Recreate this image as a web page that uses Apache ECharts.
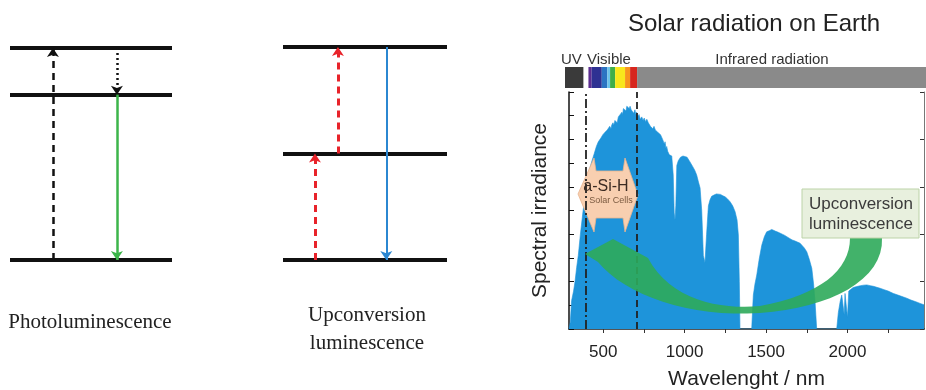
<!DOCTYPE html>
<html>
<head>
<meta charset="utf-8">
<script src="https://cdn.jsdelivr.net/npm/echarts@6/dist/echarts.min.js"></script>
<style>
  html, body { margin: 0; padding: 0; background: #fff; }
  #chart { width: 926px; height: 390px; }
</style>
</head>
<body>
<div id="chart"></div>
<script>
// spectrum (nm / arbitrary units)
const wavelength = [290, 298, 306, 318, 327, 337, 347, 360, 375, 388, 400, 415, 429, 445, 458, 470, 485, 498, 511, 525,
  540, 548, 552, 560, 565, 572, 580, 586, 593, 600, 605, 615, 620, 624, 630, 635, 640, 645, 654, 660,
  665, 672, 680, 687, 695, 700, 705, 712, 720, 728, 737, 745, 752, 760, 768, 777, 785, 790, 798, 805,
  812, 820, 828, 835, 845, 852, 859, 865, 870, 876, 880, 886, 890, 896, 900, 906, 912, 921, 930, 936,
  941, 946, 952, 961, 975, 990, 1002, 1015, 1033, 1050, 1062, 1074, 1085, 1095, 1105, 1115, 1125, 1135, 1146, 1156,
  1166, 1180, 1195, 1207, 1220, 1235, 1248, 1262, 1279, 1295, 1310, 1322, 1330, 1336, 1340, 1412, 1418, 1422, 1432, 1443,
  1458, 1474, 1490, 1504, 1520, 1535, 1545, 1560, 1575, 1586, 1600, 1615, 1627, 1645, 1660, 1675, 1689, 1700, 1709, 1720,
  1735, 1750, 1765, 1781, 1792, 1801, 1811, 1934, 1944, 1955, 1965, 1975, 1980, 1985, 1995, 2000, 2008, 2020, 2035, 2057,
  2080, 2100, 2119, 2140, 2160, 2180, 2200, 2225, 2250, 2282, 2310, 2335, 2364, 2390, 2420, 2446, 2470];
const irradiance = [0, 0.3, 1.2, 1.6, 2.0, 2.6, 3.1, 4.0, 4.9, 5.6, 6.2, 6.7, 7.05, 7.4, 7.7, 7.9, 8.05, 8.2, 8.3, 8.4,
  8.55, 8.45, 8.6, 8.7, 8.6, 8.8, 8.8, 8.7, 8.95, 9.0, 8.9, 9.15, 9.05, 9.3, 9.25, 9.35, 9.2, 9.4, 9.45, 9.3,
  9.4, 9.25, 9.3, 9.1, 9.25, 9.05, 9.15, 8.95, 9.05, 8.85, 8.95, 8.8, 8.9, 8.75, 8.85, 8.7, 8.75, 8.55, 8.6, 8.45,
  8.55, 8.4, 8.45, 8.3, 8.35, 8.2, 8.25, 8.0, 8.05, 7.8, 7.9, 7.6, 7.7, 7.5, 7.55, 7.35, 7.4, 7.3, 6.5, 4.9,
  4.6, 5.2, 6.9, 7.1, 7.25, 7.3, 7.35, 7.25, 7.05, 6.85, 6.7, 6.5, 6.2, 5.95, 5.0, 3.1, 2.8, 4.0, 5.2, 5.45,
  5.6, 5.65, 5.7, 5.7, 5.68, 5.62, 5.58, 5.5, 5.37, 5.2, 4.95, 4.6, 3.97, 2.0, 0, 0, 0.9, 1.43, 1.9, 2.28,
  2.95, 3.54, 3.9, 4.1, 4.15, 4.2, 4.18, 4.12, 4.08, 4.04, 4.0, 3.95, 3.9, 3.82, 3.76, 3.72, 3.68, 3.66, 3.62, 3.55,
  3.42, 3.26, 2.95, 2.56, 1.9, 1.15, 0, 0, 0.7, 1.15, 1.43, 1.5, 0.6, 1.5, 1.55, 0.5, 1.6, 1.65, 1.75, 1.79,
  1.83, 1.85, 1.86, 1.83, 1.8, 1.76, 1.72, 1.66, 1.6, 1.5, 1.43, 1.37, 1.3, 1.22, 1.15, 1.08, 1.02];

const xLabelValues = [500, 1000, 1500, 2000];
const xTickValues = [500, 750, 1000, 1250, 1500, 1750, 2000, 2250];
const cellLimits = [390, 705]; // a-Si-H range

// colour band over the plot
const bandStart = [265, 409, 429, 491, 525, 542, 573, 634, 665, 708];
const bandEnd   = [378, 429, 491, 525, 542, 573, 634, 665, 708, 2483];
const bandColor = ['#3a3a3a', '#5c2d91', '#2e3192', '#2b74c2', '#6cc4ea', '#3fae49', '#f8e71c', '#f7941d', '#d7261e', '#8a8a8a'];

// energy level diagrams
const plLevels = [0, 0.78, 1];
const ucLevels = [0, 0.5, 1];
// [x, from, to]
const plArrows = [[0.265, 0, 1], [0.66, 1, 0.78], [0.66, 0.78, 0]];
const ucArrows = [[0.195, 0, 0.5], [0.335, 0.5, 1], [0.63, 1, 0]];

const blue = '#1e94da';
const sans = '"Liberation Sans", Arial, sans-serif';
const serif = '"Liberation Serif", "Times New Roman", serif';

const chart = echarts.init(document.getElementById('chart'));

const plStyles = [
  { color: '#111', width: 2.5, type: [7, 5] },
  { color: '#111', width: 2.5, type: [2, 3] },
  { color: '#3cb54a', width: 2.5, type: 'solid' }
];
const ucStyles = [
  { color: '#e8232a', width: 3, type: [7, 5] },
  { color: '#e8232a', width: 3, type: [7, 5] },
  { color: '#2b87d1', width: 2, type: 'solid' }
];

function levelLines(levels) {
  return levels.map(e => ({ coords: [[0, e], [1, e]] }));
}
function arrowLines(arrows, styles) {
  return arrows.map((a, i) => ({ coords: [[a[0], a[1]], [a[0], a[2]]], lineStyle: styles[i] }));
}

// cubic bezier helper for the decorative swoosh outline
function bez(p0, p1, p2, p3, n) {
  const pts = [];
  for (let i = 0; i <= n; i++) {
    const t = i / n, u = 1 - t;
    pts.push([
      u * u * u * p0[0] + 3 * u * u * t * p1[0] + 3 * u * t * t * p2[0] + t * t * t * p3[0],
      u * u * u * p0[1] + 3 * u * u * t * p1[1] + 3 * u * t * t * p2[1] + t * t * t * p3[1]
    ]);
  }
  return pts;
}
const swoosh = [].concat(
  bez([850, 238], [850, 270], [820, 295], [760, 306], 16),
  bez([760, 306], [720, 310], [670, 300], [648, 258], 16),
  [[613, 239], [585, 254]],
  bez([598, 262], [625, 295], [690, 318], [760, 313], 16),
  bez([760, 313], [830, 308], [884, 280], [882, 238], 16)
);

const hiddenAxis = { type: 'value', min: 0, max: 1, show: false };

const option = {
  animation: false,
  title: {
    text: 'Solar radiation on Earth',
    left: 749, top: 7, textAlign: 'center',
    textStyle: { fontFamily: sans, fontSize: 24, fontWeight: 'normal', color: '#222' }
  },
  grid: [
    { left: 569, top: 92, width: 355, height: 237, outerBoundsMode: 'none' },
    { left: 565, top: 67, right: 0, height: 21, outerBoundsMode: 'none' },
    { left: 10, top: 48, width: 162, height: 212, outerBoundsMode: 'none' },
    { left: 283, top: 47, width: 164, height: 213, outerBoundsMode: 'none' }
  ],
  xAxis: [
    {
      gridIndex: 0, type: 'value', min: 290, max: 2470,
      name: 'Wavelenght / nm', nameLocation: 'middle', nameGap: 40,
      nameTextStyle: { fontFamily: sans, fontSize: 21, color: '#222' },
      axisLine: { lineStyle: { color: '#111', width: 1.5 } },
      axisTick: { inside: true, length: 4, customValues: xTickValues, lineStyle: { color: '#111' } },
      axisLabel: { customValues: xLabelValues, margin: 15, fontFamily: sans, fontSize: 17, color: '#222', formatter: v => String(v) },
      splitLine: { show: false }
    },
    {
      gridIndex: 0, type: 'value', min: 290, max: 2470, position: 'top',
      axisLine: { lineStyle: { color: '#555', width: 1 } },
      axisTick: { inside: true, length: 4, customValues: xTickValues, lineStyle: { color: '#333' } },
      axisLabel: { show: false },
      splitLine: { show: false }
    },
    { gridIndex: 1, type: 'value', min: 265, max: 2483, show: false },
    Object.assign({ gridIndex: 2 }, hiddenAxis),
    Object.assign({ gridIndex: 3 }, hiddenAxis)
  ],
  yAxis: [
    {
      gridIndex: 0, type: 'value', min: 0, max: 10, interval: 1,
      name: 'Spectral irradiance', nameLocation: 'middle', nameGap: 18, nameRotate: 90,
      nameTextStyle: { fontFamily: sans, fontSize: 21, color: '#222' },
      axisLine: { show: true, lineStyle: { color: '#111', width: 1.5 } },
      axisTick: { show: true, inside: true, length: 5, lineStyle: { color: '#111' } },
      axisLabel: { show: false },
      splitLine: { show: false }
    },
    {
      gridIndex: 0, type: 'value', min: 0, max: 10, interval: 2, position: 'right',
      axisLine: { show: true, lineStyle: { color: '#777', width: 1 } },
      axisTick: { show: true, inside: true, length: 4, lineStyle: { color: '#333' } },
      axisLabel: { show: false },
      splitLine: { show: false }
    },
    { gridIndex: 1, type: 'value', min: 0, max: 1, show: false },
    Object.assign({ gridIndex: 2 }, hiddenAxis),
    Object.assign({ gridIndex: 3 }, hiddenAxis)
  ],
  series: [
    {
      type: 'line', xAxisIndex: 0, yAxisIndex: 0, z: 2,
      data: wavelength.map((w, i) => [w, irradiance[i]]),
      symbol: 'none',
      lineStyle: { color: blue, width: 0.6 },
      areaStyle: { color: blue, opacity: 1 }
    },
    {
      type: 'line', xAxisIndex: 0, yAxisIndex: 0, z: 10, data: [],
      markLine: {
        silent: true, symbol: 'none', label: { show: false },
        lineStyle: { color: '#222', width: 1.8 },
        data: [
          { xAxis: cellLimits[0], lineStyle: { type: [9, 3, 2, 3] } },
          { xAxis: cellLimits[1], lineStyle: { type: [7, 4] } }
        ]
      }
    },
    {
      type: 'custom', xAxisIndex: 2, yAxisIndex: 2,
      data: bandStart.map((s, i) => [s, bandEnd[i]]),
      renderItem: function (params, api) {
        const p0 = api.coord([api.value(0), 1]);
        const p1 = api.coord([api.value(1), 0]);
        return {
          type: 'rect',
          shape: { x: p0[0], y: p0[1], width: p1[0] - p0[0], height: p1[1] - p0[1] },
          style: { fill: bandColor[params.dataIndex] }
        };
      }
    },
    {
      type: 'lines', coordinateSystem: 'cartesian2d', xAxisIndex: 3, yAxisIndex: 3,
      symbol: 'none', lineStyle: { color: '#111', width: 4, opacity: 1 },
      data: levelLines(plLevels)
    },
    {
      type: 'lines', coordinateSystem: 'cartesian2d', xAxisIndex: 3, yAxisIndex: 3,
      symbol: ['none', 'arrow'], symbolSize: 9, lineStyle: { opacity: 1 },
      data: arrowLines(plArrows, plStyles)
    },
    {
      type: 'lines', coordinateSystem: 'cartesian2d', xAxisIndex: 4, yAxisIndex: 4,
      symbol: 'none', lineStyle: { color: '#111', width: 4, opacity: 1 },
      data: levelLines(ucLevels)
    },
    {
      type: 'lines', coordinateSystem: 'cartesian2d', xAxisIndex: 4, yAxisIndex: 4,
      symbol: ['none', 'arrow'], symbolSize: 9, lineStyle: { opacity: 1 },
      data: arrowLines(ucArrows, ucStyles)
    }
  ],
  graphic: [
    // band labels
    { type: 'text', x: 561, y: 60, z: 20, style: { text: 'UV', font: '15px ' + sans, fill: '#333', verticalAlign: 'middle' } },
    { type: 'text', x: 587, y: 60, z: 20, style: { text: 'Visible', font: '15px ' + sans, fill: '#333', verticalAlign: 'middle' } },
    { type: 'text', x: 772, y: 60, z: 20, style: { text: 'Infrared radiation', font: '15px ' + sans, fill: '#333', align: 'center', verticalAlign: 'middle' } },
    // a-Si-H double arrow
    {
      type: 'polygon', z: 5,
      shape: { points: [[578, 194], [594, 158], [596, 171], [623, 171], [625, 158], [638, 195], [625, 232], [623, 218], [596, 218], [594, 232]] },
      style: { fill: '#f8cfb0', stroke: '#e8b48e', lineWidth: 0.8 }
    },
    { type: 'text', x: 606, y: 187, z: 6, style: { text: 'a-Si-H', font: '16px ' + sans, fill: '#3b2b22', align: 'center', verticalAlign: 'middle' } },
    { type: 'text', x: 611, y: 201, z: 6, style: { text: 'Solar Cells', font: '9px ' + sans, fill: '#7a5a40', align: 'center', verticalAlign: 'middle' } },
    // green curved arrow
    { type: 'polygon', z: 20, shape: { points: swoosh }, style: { fill: 'rgba(46,170,90,0.9)' } },
    // label box
    { type: 'rect', z: 25, shape: { x: 802, y: 189, width: 117, height: 49 }, style: { fill: '#e8f0de', stroke: '#bcd3a8', lineWidth: 1 } },
    { type: 'text', x: 861, y: 214, z: 26, style: { text: 'Upconversion\nluminescence', font: '17px ' + sans, lineHeight: 20, fill: '#3b3b3b', align: 'center', verticalAlign: 'middle' } },
    // diagram captions
    { type: 'text', x: 90, y: 322, z: 20, style: { text: 'Photoluminescence', font: '21px ' + serif, fill: '#222', align: 'center', verticalAlign: 'middle' } },
    { type: 'text', x: 367, y: 329, z: 20, style: { text: 'Upconversion\nluminescence', font: '21px ' + serif, lineHeight: 28, fill: '#222', align: 'center', verticalAlign: 'middle' } }
  ]
};

chart.setOption(option);
</script>
</body>
</html>
